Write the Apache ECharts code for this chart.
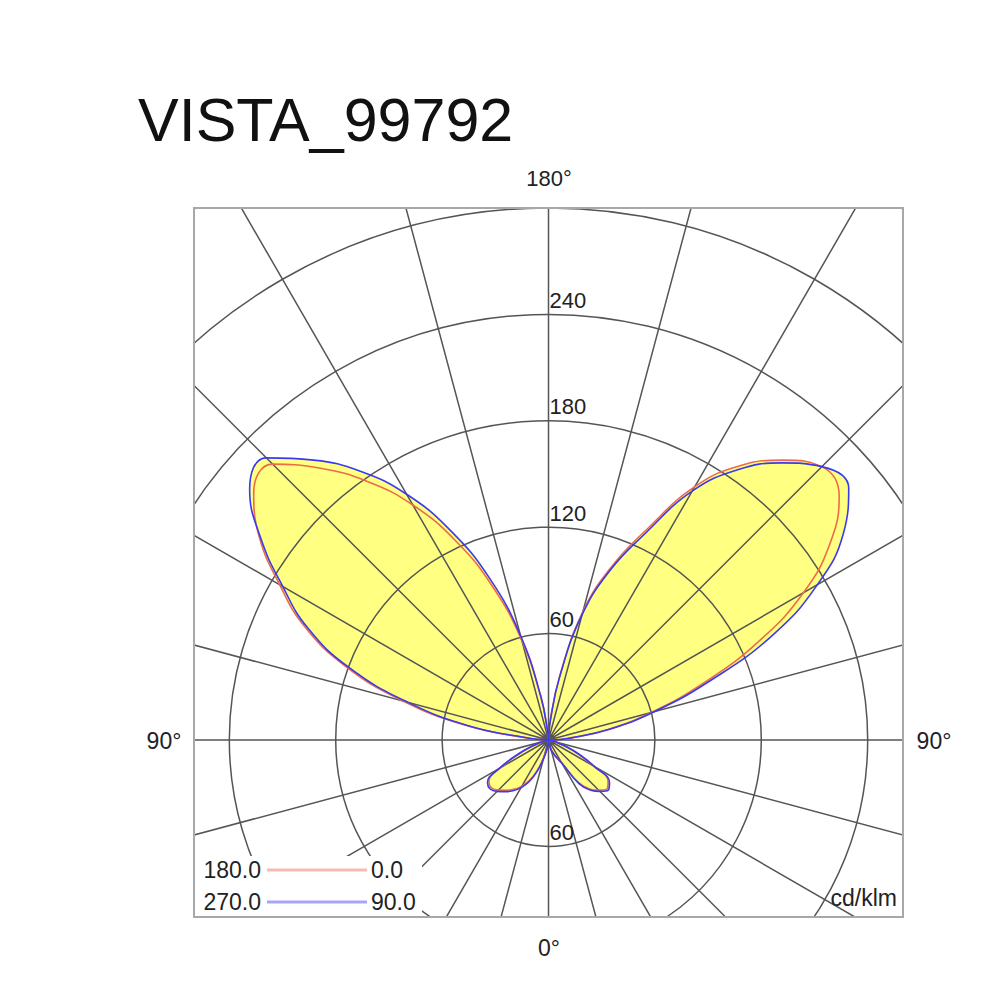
<!DOCTYPE html>
<html><head><meta charset="utf-8">
<script src="https://cdn.jsdelivr.net/npm/echarts@6/dist/echarts.min.js"></script>
<style>html,body{margin:0;padding:0;background:#fff}#c{width:1000px;height:1000px}</style>
</head><body><div id="c"></div>
<script>
// ---- data (cd/klm) ----
const chartTitle = 'VISTA_99792';
const unitLabel = 'cd/klm';
const gammaAngles = [0,5,10,15,20,25,30,35,40,45,50,55,60,65,70,75,80,85,90,95,100,105,110,115,120,125,130,135,140,145,150,155,160,165,170,175,180];
// red pair: C180 drawn on the left half, C0 on the right half
const c180 = [0,2,5,10,18,25,30,34,37,40,42,41,31,18,8,3,1,0,0,11,47,85,122,152,175,199,217,220,200,178,153,124,92,58,24,4,0];
const c0   = [0,1,3,5,8,11,15,29,36,40,43,41,29,18,9,3,1,0,2,12,34,60,92,130,166,194,214,218,206,189,165,131,104,75,37,11,0];
// blue pair: C270 drawn on the left half, C90 on the right half
const c270 = [0,2,6,11,19,26,31,35,38,41,43,42,32,19,9,3,1,0,0,10,45,82,120,150,173,198,220,225,206,185,160,130,97,61,25,4,0];
const c90  = [0,1,3,6,8,11,15,30,37,41,44,42,30,19,10,4,1,0,2,12,35,62,96,139,175,203,221,218,204,186,162,128,102,73,36,10,0];
const ringLabelsTop = [60,120,180,240];
const ringLabelsBottom = [60];
const legendRows = [['180.0','0.0'],['270.0','90.0']];
const angleLabels = ['180°','90°','90°','0°'];

const RED = '#ee6a4a', BLUE = '#3a3aee', FILL = '#ffff82', GRID = '#555555';
const FONT = 'Liberation Sans, Arial, Helvetica, sans-serif';

function curve(left, right) {
  const pts = gammaAngles.map((g, i) => [left[i], g]);
  for (let i = gammaAngles.length - 2; i >= 0; i--) pts.push([right[i], 360 - gammaAngles[i]]);
  return pts;
}
const redData = curve(c180, c0);
const blueData = curve(c270, c90);

const chart = echarts.init(document.getElementById('c'), null, {renderer: 'svg'});
const splitStyle = {show: true, lineStyle: {color: GRID, width: 1.5}};
const SMOOTH = 0.45;
const fillSeries = d => ({type: 'line', coordinateSystem: 'polar', data: d, smooth: SMOOTH, symbol: 'none',
  lineStyle: {width: 0, opacity: 0}, areaStyle: {color: FILL, opacity: 1}, z: 1, silent: true});
const lineSeries = (d, c) => ({type: 'line', coordinateSystem: 'polar', data: d, smooth: SMOOTH, symbol: 'none',
  lineStyle: {color: c, width: 1.6}, z: 10, silent: true});

chart.setOption({
  animation: false,
  polar: {center: [548.5, 740], radius: 380 * 1.7733},
  angleAxis: {type: 'value', min: 0, max: 360, interval: 15, startAngle: 270, clockwise: true,
    axisLine: {show: false}, axisTick: {show: false}, axisLabel: {show: false}, splitLine: splitStyle, z: 5},
  radiusAxis: {type: 'value', min: 0, max: 380, interval: 60,
    axisLine: {show: false}, axisTick: {show: false}, axisLabel: {show: false}, splitLine: splitStyle, z: 5},
  series: [fillSeries(redData), fillSeries(blueData), lineSeries(redData, RED), lineSeries(blueData, BLUE)]
});

// overlay: mask outside frame, frame, texts
const els = [];
const Z = 100;
const white = (x, y, w, h) => els.push({type: 'rect', shape: {x, y, width: w, height: h}, style: {fill: '#fff'}, z: Z, silent: true});
white(0, 0, 1000, 208); white(0, 917, 1000, 83); white(0, 200, 194, 720); white(903, 200, 97, 720);
white(196, 856, 226, 60);
els.push({type: 'rect', shape: {x: 194, y: 208, width: 709, height: 709}, style: {fill: 'none', stroke: '#a8a8a8', lineWidth: 2}, z: Z + 1, silent: true});
const txt = (t, x, y, size, align, valign, color) => els.push({type: 'text', x, y, z: Z + 2, silent: true,
  style: {text: t, font: size + 'px ' + FONT, fill: color || '#222', textAlign: align, textVerticalAlign: valign}});
txt(chartTitle, 138, 120, 61, 'left', 'middle', '#111');
txt(angleLabels[0], 549, 178, 22, 'center', 'middle');
txt(angleLabels[1], 164, 741, 23, 'center', 'middle');
txt(angleLabels[2], 934, 741, 23, 'center', 'middle');
txt(angleLabels[3], 549, 948, 23, 'center', 'middle');
ringLabelsTop.forEach(v => { const p = chart.convertToPixel({seriesIndex: 0}, [v, 180]); txt(String(v), p[0] + 1, p[1] - 3, 22, 'left', 'bottom'); });
ringLabelsBottom.forEach(v => { const p = chart.convertToPixel({seriesIndex: 0}, [v, 0]); txt(String(v), p[0] + 1, p[1] - 3, 22, 'left', 'bottom'); });
const legendColors = [RED, BLUE];
legendRows.forEach((row, i) => {
  const y = 870 + i * 32;
  txt(row[0], 261, y, 23, 'right', 'middle');
  els.push({type: 'line', shape: {x1: 267, y1: y, x2: 367, y2: y}, style: {stroke: legendColors[i], lineWidth: 3, opacity: 0.45}, z: Z + 2, silent: true});
  txt(row[1], 371, y, 23, 'left', 'middle');
});
txt(unitLabel, 897, 898, 23, 'right', 'middle');
chart.setOption({graphic: {elements: els}});
</script></body></html>
